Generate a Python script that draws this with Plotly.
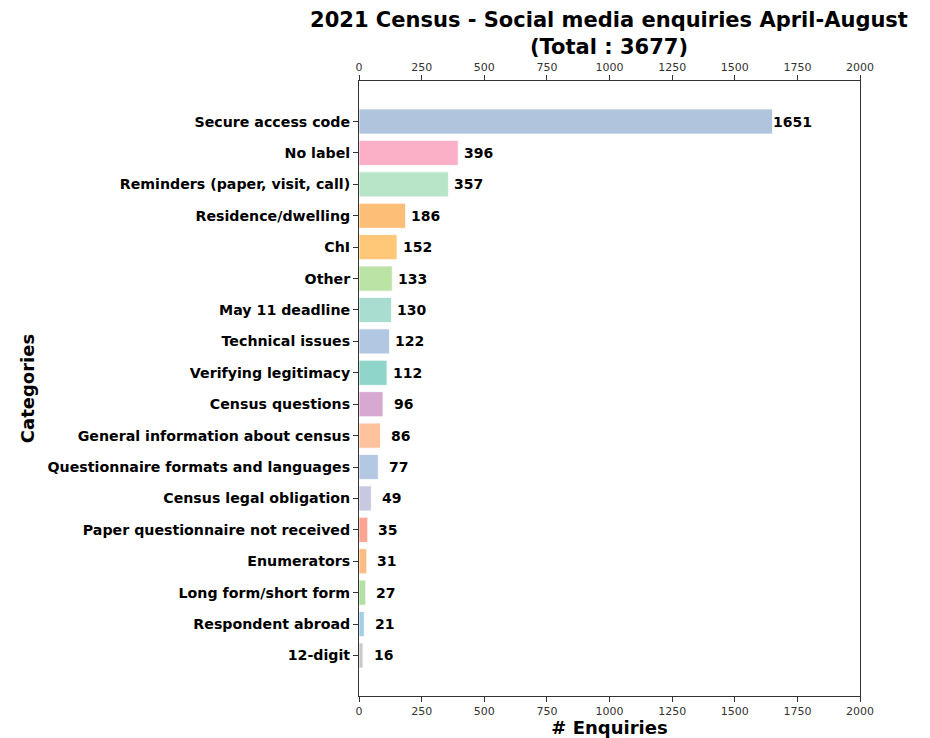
import plotly.graph_objects as go

categories = ["Secure access code", "No label", "Reminders (paper, visit, call)", "Residence/dwelling",
              "ChI", "Other", "May 11 deadline", "Technical issues", "Verifying legitimacy",
              "Census questions", "General information about census", "Questionnaire formats and languages",
              "Census legal obligation", "Paper questionnaire not received", "Enumerators",
              "Long form/short form", "Respondent abroad", "12-digit"]
values = [1651, 396, 357, 186, 152, 133, 130, 122, 112, 96, 86, 77, 49, 35, 31, 27, 21, 16]
colors = ["#b0c4de", "#fbb0c8", "#b8e4c8", "#fdbe78", "#fec878", "#bce3a6", "#a9ddd0", "#b2c8e2",
          "#90d5c9", "#d6a8d2", "#fec29c", "#b4c8e4", "#c7c8e2", "#fda493", "#fdbc82", "#b3e0a2",
          "#a6cde6", "#c8c8c8"]
x_ticks = [0, 250, 500, 750, 1000, 1250, 1500, 1750, 2000]

total = sum(values)
FONT = "DejaVu Sans"
W, H = 922, 730  # page body has an 8px margin

fig = go.Figure()
fig.add_trace(go.Bar(
    y=categories, x=values, orientation="h", width=0.8,
    marker=dict(color=colors, line=dict(color="rgba(255,255,255,0.8)", width=1)),
    hoverinfo="x+y", showlegend=False,
))
# invisible twin to drive the top axis
fig.add_trace(go.Bar(
    y=categories, x=values, orientation="h", xaxis="x2", opacity=0,
    hoverinfo="skip", showlegend=False,
))

for c, v in zip(categories, values):
    fig.add_annotation(x=v + 80, y=c, text=f"<b>{v}</b>", showarrow=False,
                       xanchor="center", yanchor="middle",
                       font=dict(family=FONT, size=14, color="black"))

axis_common = dict(range=[0, 2000], tickvals=x_ticks, ticks="outside", ticklen=5, tickwidth=1,
                   tickcolor="#333", tickfont=dict(family=FONT, size=11, color="#333"),
                   showgrid=False, zeroline=False, showline=True, linecolor="#333", linewidth=1,
                   automargin=False)

fig.update_layout(
    width=W, height=H,
    margin=dict(l=351, r=70, t=73, b=42),
    paper_bgcolor="white", plot_bgcolor="white",
    barmode="overlay",
    title=dict(text=f"<b>2021 Census - Social media enquiries April-August<br>(Total : {total})</b>",
               x=601 / W, xanchor="center", y=1 - 19 / H, yanchor="middle", yref="container",
               font=dict(family=FONT, size=21, color="black")),
    xaxis=dict(**axis_common, mirror=True,
               title=dict(text="<b># Enquiries</b>", font=dict(family=FONT, size=18, color="black"),
                          standoff=4)),
    xaxis2=dict(**axis_common, overlaying="x", side="top", matches="x"),
    yaxis=dict(range=[len(categories) - 1 + 1.29, -1.29], ticks="outside", ticklen=5, tickwidth=1,
               tickcolor="#333", showline=True, linecolor="#333", linewidth=1, mirror=True,
               showgrid=False, zeroline=False, automargin=False,
               tickfont=dict(family=FONT, size=14.2, color="black"),
               tickprefix="<b>", ticksuffix="</b>",
               title=dict(text="<b>Categories</b>", font=dict(family=FONT, size=18, color="black"),
                          standoff=8)),
    font=dict(family=FONT),
)

fig.write_html("out.html")
